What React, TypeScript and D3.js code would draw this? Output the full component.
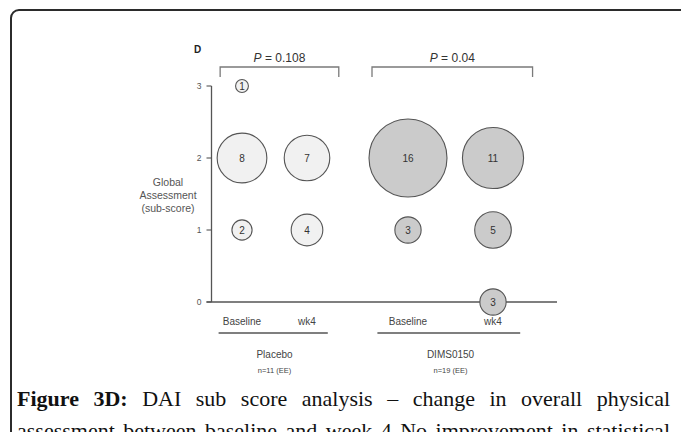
import React, { useLayoutEffect, useRef } from "react";
import * as d3 from "d3";

// ---------- data ----------
const groups = ["Placebo", "DIMS0150"];
const groupNs = ["n=11 (EE)", "n=19 (EE)"];
const timepoints = ["Baseline", "wk4"];
const pValues = ["0.108", "0.04"];
const yTicks = [0, 1, 2, 3];
// counts indexed by sub-score 0..3
const placeboBaseline = [0, 2, 8, 1];
const placeboWk4 = [0, 4, 7, 0];
const dimsBaseline = [0, 3, 16, 0];
const dimsWk4 = [3, 5, 11, 0];
const caption1Bold = "Figure 3D:";
const caption1 = "DAI sub score analysis – change in overall physical";
const caption2 = "assessment between baseline and week 4 No improvement in statistical";

const series = [
  [placeboBaseline, placeboWk4],
  [dimsBaseline, dimsWk4],
];

// ---------- layout ----------
const W = 681;
const H = 432;
const groupCenters = d3.scalePoint<string>().domain(groups).range([274.5, 450.5]);
const groupSpread: Record<string, number> = { Placebo: 65, DIMS0150: 85 };
const fills: Record<string, string> = { Placebo: "#f1f1f1", DIMS0150: "#cbcbcb" };
const y = d3.scaleLinear().domain([0, 3]).range([302, 86]);
const r = d3.scalePow().exponent(0.65).domain([0, 16]).range([0, 39]);
const axisX = 211.5;
const axisRight = 557;
const sans = "Liberation Sans, Arial, sans-serif";

function colX(g: string, t: string) {
  const spread = groupSpread[g];
  const inner = d3.scalePoint<string>().domain(timepoints).range([-spread / 2, spread / 2]);
  return (groupCenters(g) as number) + (inner(t) as number);
}

function Caption() {
  const ref = useRef<SVGTextElement>(null);
  const ref2 = useRef<SVGTextElement>(null);
  useLayoutEffect(() => {
    [ref.current, ref2.current].forEach((el) => {
      if (!el) return;
      el.setAttribute("word-spacing", "0");
      const natural = el.getComputedTextLength();
      const txt = el.textContent || "";
      const spaces = (txt.match(/ /g) || []).length;
      const target = 670 - 17;
      if (spaces > 0) el.setAttribute("word-spacing", String(Math.max(0, (target - natural) / spaces)));
    });
  }, []);
  return (
    <g fontFamily="Liberation Serif, Times New Roman, serif" fontSize={22} fill="#111">
      <text ref={ref} x={17} y={406}>
        <tspan fontWeight="bold">{caption1Bold}</tspan> {caption1}
      </text>
      <text ref={ref2} x={17} y={438}>
        {caption2}
      </text>
    </g>
  );
}

export default function App() {
  return (
    <svg
      width={W}
      height={H}
      style={{ position: "absolute", left: 0, top: 0, background: "#fff" }}
    >
      <rect x={0} y={0} width={W} height={H} fill="#fff" />
      <rect x={11} y={10} width={760} height={520} rx={8} fill="none" stroke="#2b2b2b" strokeWidth={2} />

      {/* panel letter */}
      <text x={194} y={53} fontFamily={sans} fontWeight="bold" fontSize={10} fill="#222">D</text>

      {/* brackets with P values */}
      {groups.map((g, gi) => {
        const x0 = colX(g, timepoints[0]);
        const x1 = colX(g, timepoints[1]);
        const left = x0 - r(d3.max(series[gi][0]) as number) + 3;
        const right = x1 + r(d3.max(series[gi][1]) as number) + 9;
        const top = 67;
        return (
          <g key={"br" + g}>
            <path
              d={`M${left},${top + 10}V${top}H${right}V${top + 10}`}
              fill="none"
              stroke="#7a7a7a"
              strokeWidth={1.3}
            />
            <text
              x={(left + right) / 2}
              y={62}
              textAnchor="middle"
              fontFamily={sans}
              fontSize={12}
              fill="#333"
            >
              <tspan fontStyle="italic">P</tspan> = {pValues[gi]}
            </text>
          </g>
        );
      })}

      {/* y axis */}
      <line x1={axisX} x2={axisX} y1={y(3)} y2={y(0)} stroke="#555" strokeWidth={1.3} />
      <line x1={axisX - 5} x2={axisRight} y1={y(0)} y2={y(0)} stroke="#555" strokeWidth={1.3} />
      {yTicks.map((t) => (
        <g key={"yt" + t}>
          <line x1={axisX - 5} x2={axisX} y1={y(t)} y2={y(t)} stroke="#555" strokeWidth={1.1} />
          <text
            x={axisX - 10}
            y={y(t)}
            dy="0.35em"
            textAnchor="end"
            fontFamily={sans}
            fontSize={8.5}
            fill="#555"
          >
            {t}
          </text>
        </g>
      ))}
      <g fontFamily={sans} fontSize={10.5} fill="#555" textAnchor="middle">
        <text x={168} y={186}>Global</text>
        <text x={168} y={199}>Assessment</text>
        <text x={168} y={212}>(sub-score)</text>
      </g>

      {/* bubbles */}
      {groups.map((g, gi) =>
        timepoints.map((t, ti) =>
          series[gi][ti].map((c, score) =>
            c > 0 ? (
              <g key={`b${g}${t}${score}`}>
                <circle
                  cx={colX(g, t)}
                  cy={y(score)}
                  r={r(c)}
                  fill={fills[g]}
                  stroke="#555"
                  strokeWidth={1.1}
                />
                <text
                  x={colX(g, t)}
                  y={y(score)}
                  dy="0.36em"
                  textAnchor="middle"
                  fontFamily={sans}
                  fontSize={10}
                  fill="#333"
                >
                  {c}
                </text>
              </g>
            ) : null
          )
        )
      )}

      {/* x labels */}
      {groups.map((g, gi) => {
        const x0 = colX(g, timepoints[0]);
        const x1 = colX(g, timepoints[1]);
        const spread = groupSpread[g];
        const gc = groupCenters(g) as number;
        return (
          <g key={"xl" + g} fontFamily={sans} fill="#444" textAnchor="middle">
            {timepoints.map((t) => (
              <text key={t} x={colX(g, t)} y={325} fontSize={10}>
                {t}
              </text>
            ))}
            <line
              x1={x0 - 0.36 * spread}
              x2={x1 + 0.32 * spread}
              y1={333}
              y2={333}
              stroke="#555"
              strokeWidth={1.3}
            />
            <text x={gc} y={358} fontSize={10}>{g}</text>
            <text x={gc} y={373} fontSize={7.5}>{groupNs[gi]}</text>
          </g>
        );
      })}

      <Caption />
    </svg>
  );
}
